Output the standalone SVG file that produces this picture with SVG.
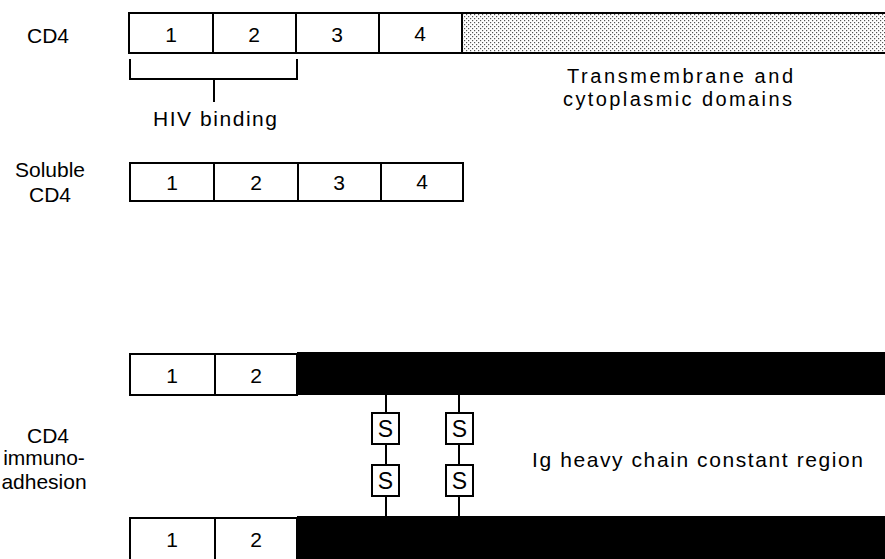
<svg xmlns="http://www.w3.org/2000/svg" width="885" height="559" viewBox="0 0 885 559">
<style>
.t{font-family:"Liberation Sans","DejaVu Sans",sans-serif;font-size:21px;fill:#000}
.p{font-size:20px}
.m{text-anchor:middle}
.box{fill:#fff;stroke:#000;stroke-width:2}
.ln{stroke:#000;stroke-width:2;fill:none}
.blk{fill:#000}
.s{font-family:"Liberation Sans","DejaVu Sans",sans-serif;font-size:23px;text-anchor:middle}
</style>
<defs>
<pattern id="dots" width="4" height="4" patternUnits="userSpaceOnUse">
<rect width="4" height="4" fill="#fff"/>
<rect x="0" y="0" width="1.2" height="1.2" fill="#555"/>
<rect x="2" y="2" width="1.2" height="1.2" fill="#555"/>
</pattern>
</defs>

<g id="cd4">
<text class="t m" x="48" y="43">CD4</text>
<rect class="box" x="129" y="13" width="84" height="40"/>
<rect class="box" x="213" y="13" width="83" height="40"/>
<rect class="box" x="296" y="13" width="83" height="40"/>
<rect class="box" x="379" y="13" width="83" height="40"/>
<rect x="462" y="13" width="424" height="40" fill="url(#dots)" stroke="#000" stroke-width="2"/>
<text class="t m" x="171" y="42">1</text>
<text class="t m" x="254" y="42">2</text>
<text class="t m" x="337" y="42">3</text>
<text class="t m" x="420" y="41">4</text>
<text class="t p" x="567" y="83" textLength="226" lengthAdjust="spacing">Transmembrane and</text>
<text class="t p" x="563" y="106" textLength="229" lengthAdjust="spacing">cytoplasmic domains</text>
</g>

<g id="hiv-binding">
<path class="ln" d="M130 59 V79 H297 V59 M214 79 V102"/>
<text class="t" x="153" y="126" textLength="124" lengthAdjust="spacing">HIV binding</text>
</g>

<g id="soluble-cd4">
<text class="t m" x="50" y="177">Soluble</text>
<text class="t m" x="50" y="202">CD4</text>
<rect class="box" x="130" y="163" width="84" height="38"/>
<rect class="box" x="214" y="163" width="84" height="38"/>
<rect class="box" x="298" y="163" width="83" height="38"/>
<rect class="box" x="381" y="163" width="82" height="38"/>
<text class="t m" x="172" y="190">1</text>
<text class="t m" x="256" y="190">2</text>
<text class="t m" x="339" y="190">3</text>
<text class="t m" x="422" y="189">4</text>
</g>

<g id="immunoadhesion-label">
<text class="t m" x="48" y="443">CD4</text>
<text class="t m" x="44" y="465">immuno-</text>
<text class="t m" x="44" y="489">adhesion</text>
</g>

<g id="chain-top">
<rect class="box" x="130" y="354" width="85" height="41"/>
<rect class="box" x="215" y="354" width="82" height="41"/>
<rect class="blk" x="297" y="352" width="588" height="43"/>
<text class="t m" x="172" y="383">1</text>
<text class="t m" x="256" y="383">2</text>
</g>

<g id="chain-bottom">
<rect class="box" x="130" y="518" width="85" height="44"/>
<rect class="box" x="215" y="518" width="82" height="44"/>
<rect class="blk" x="297" y="516" width="588" height="43"/>
<text class="t m" x="172" y="547">1</text>
<text class="t m" x="256" y="547">2</text>
</g>

<g id="connectors">
<path class="ln" d="M386 395 V413 M386 444 V465 M386 496 V517 M459 395 V413 M459 444 V465 M459 496 V517"/>
</g>

<g id="disulfide-1">
<rect class="box" x="372" y="413" width="27" height="31"/>
<text class="s" x="385.5" y="437">S</text>
<rect class="box" x="372" y="465" width="27" height="31"/>
<text class="s" x="385.5" y="489">S</text>
</g>
<g id="disulfide-2">
<rect class="box" x="446" y="413" width="27" height="31"/>
<text class="s" x="459.5" y="437">S</text>
<rect class="box" x="446" y="465" width="27" height="31"/>
<text class="s" x="459.5" y="489">S</text>
</g>

<g id="ig-label">
<text class="t" x="532" y="467" textLength="331" lengthAdjust="spacing">Ig heavy chain constant region</text>
</g>
</svg>
